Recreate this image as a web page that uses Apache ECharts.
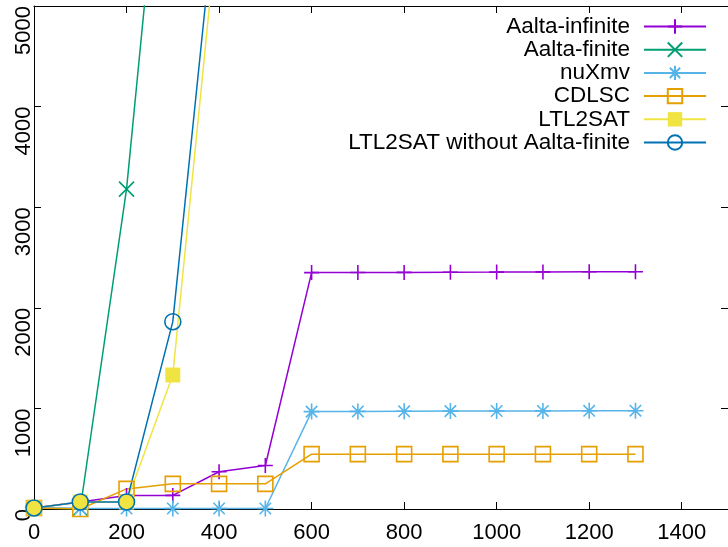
<!DOCTYPE html>
<html>
<head>
<meta charset="utf-8">
<script src="https://cdn.jsdelivr.net/npm/echarts@6/dist/echarts.min.js"></script>
<style>
	html,body{margin:0;padding:0;background:#fff;}
	#EchartDiv{width:728px;height:547px;}
</style>
</head>
<body>
<div id="EchartDiv"></div>
<script>
var arrX           = [0, 100, 200, 300, 400, 500, 600, 700, 800, 900, 1000, 1100, 1200, 1300];
var arrAaltaInf    = [10, 70, 135, 135, 370, 432, 2350, 2351, 2352, 2354, 2355, 2357, 2358, 2358];
var arrAaltaFin    = [8, 5, 3180, 7900];
var arrNuXmv       = [10, 5, 5, 5, 5, 5, 968, 970, 971, 973, 974, 975, 976, 977];
var arrCDLSC       = [10, 0, 200, 250, 250, 250, 545, 545, 545, 545, 545, 545, 545, 545];
var arrLTL2SAT     = [10, 70, 70, 1332, 5965];
var arrLTL2SATnoAF = [10, 70, 70, 1862, 6340];
var arrSeriesName  = ['Aalta-infinite', 'Aalta-finite', 'nuXmv', 'CDLSC', 'LTL2SAT', 'LTL2SAT without Aalta-finite'];
var xTickLabels    = ['0', '200', '400', '600', '800', '1000', '1200', '1400'];
var yTickLabels    = ['0', '1000', '2000', '3000', '4000', '5000'];

var myChart = echarts.init(document.getElementById('EchartDiv'), null, {renderer: 'canvas'});
var fontFamily = 'Liberation Sans';

function pairs(ys){
	var arr = [];
	for (var i = 0; i < ys.length; i++){
		arr.push([arrX[i], ys[i]]);
	}
	return arr;
}

// 每条曲线: 颜色, 点型, 点大小, 是否实心
function makeSeries(name, data, color, symbol, size, filled){
	return {
		name: name,
		type: 'line',
		data: pairs(data),
		symbol: symbol,
		symbolSize: size,
		showAllSymbol: true,
		clip: true,
		lineStyle: {color: color, width: 1.5},
		itemStyle: {
			color: filled ? color : 'rgba(0,0,0,0)',
			borderColor: color,
			borderWidth: filled ? 0 : 1.6
		},
		emphasis: {disabled: true},
		z: 2
	};
}

var symPlus  = 'path://M0,7L14,7M7,0L7,14';
var symCross = 'path://M0,0L12,12M0,12L12,0';
var symStar  = 'path://M0,7L14,7M7,0L7,14M2,2L12,12M2,12L12,2';
var symBox   = 'path://M0,0L14,0L14,14L0,14Z';

var axisLineStyle = {color: '#000', width: 1};

var option = {
	animation: false,
	backgroundColor: '#fff',
	textStyle: {fontFamily: fontFamily},
	grid: {left: 34, top: 6, width: 700, height: 503},
	legend: {
		data: arrSeriesName,
		orient: 'vertical',
		right: 21,
		top: 15,
		padding: 0,
		align: 'right',
		itemWidth: 62,
		itemHeight: 18,
		itemGap: 0.2,
		selectedMode: false,
		textStyle: {fontSize: 22.5, lineHeight: 22, color: '#000', fontFamily: fontFamily, padding: [0, 9, 0, 0]}
	},
	xAxis: [
		{
			type: 'value',
			min: 0,
			max: 1500,
			interval: 200,
			position: 'bottom',
			axisLine: {show: true, onZero: false, lineStyle: axisLineStyle},
			axisTick: {show: true, inside: true, length: 7, lineStyle: axisLineStyle},
			splitLine: {show: false},
			axisLabel: {
				show: true,
				margin: 13,
				fontSize: 22,
				color: '#000',
				fontFamily: fontFamily,
				showMaxLabel: false,
				formatter: function(v){
					var s = String(v);
					return xTickLabels.indexOf(s) >= 0 ? s : '';
				}
			}
		},
		{
			type: 'value',
			min: 0,
			max: 1500,
			interval: 200,
			position: 'top',
			axisLine: {show: true, onZero: false, lineStyle: axisLineStyle},
			axisTick: {show: true, inside: true, length: 7, lineStyle: axisLineStyle},
			splitLine: {show: false},
			axisLabel: {show: false}
		}
	],
	yAxis: [
		{
			type: 'value',
			min: 0,
			max: 5000,
			interval: 1000,
			position: 'left',
			axisLine: {show: true, onZero: false, lineStyle: axisLineStyle},
			axisTick: {show: true, inside: true, length: 7, lineStyle: axisLineStyle},
			splitLine: {show: false},
			axisLabel: {
				show: true,
				rotate: 90,
				align: 'right',
				verticalAlign: 'middle',
				margin: 10,
				fontSize: 22,
				color: '#000',
				fontFamily: fontFamily,
				formatter: function(v){
					var s = String(v);
					return yTickLabels.indexOf(s) >= 0 ? s : '';
				}
			}
		},
		{
			type: 'value',
			min: 0,
			max: 5000,
			interval: 1000,
			position: 'right',
			axisLine: {show: true, onZero: false, lineStyle: axisLineStyle},
			axisTick: {show: true, inside: true, length: 7, lineStyle: axisLineStyle},
			splitLine: {show: false},
			axisLabel: {show: false}
		}
	],
	series: [
		makeSeries(arrSeriesName[0], arrAaltaInf,    '#9400d3', symPlus,  15, false),
		makeSeries(arrSeriesName[1], arrAaltaFin,    '#009e73', symCross, 15, false),
		makeSeries(arrSeriesName[2], arrNuXmv,       '#56b4e9', symStar,  16, false),
		makeSeries(arrSeriesName[3], arrCDLSC,       '#e69f00', symBox,   15, false),
		makeSeries(arrSeriesName[4], arrLTL2SAT,     '#f0e442', 'rect',   15, true),
		makeSeries(arrSeriesName[5], arrLTL2SATnoAF, '#0072b2', 'circle', 16, false)
	]
};
myChart.setOption(option);
</script>
</body>
</html>
